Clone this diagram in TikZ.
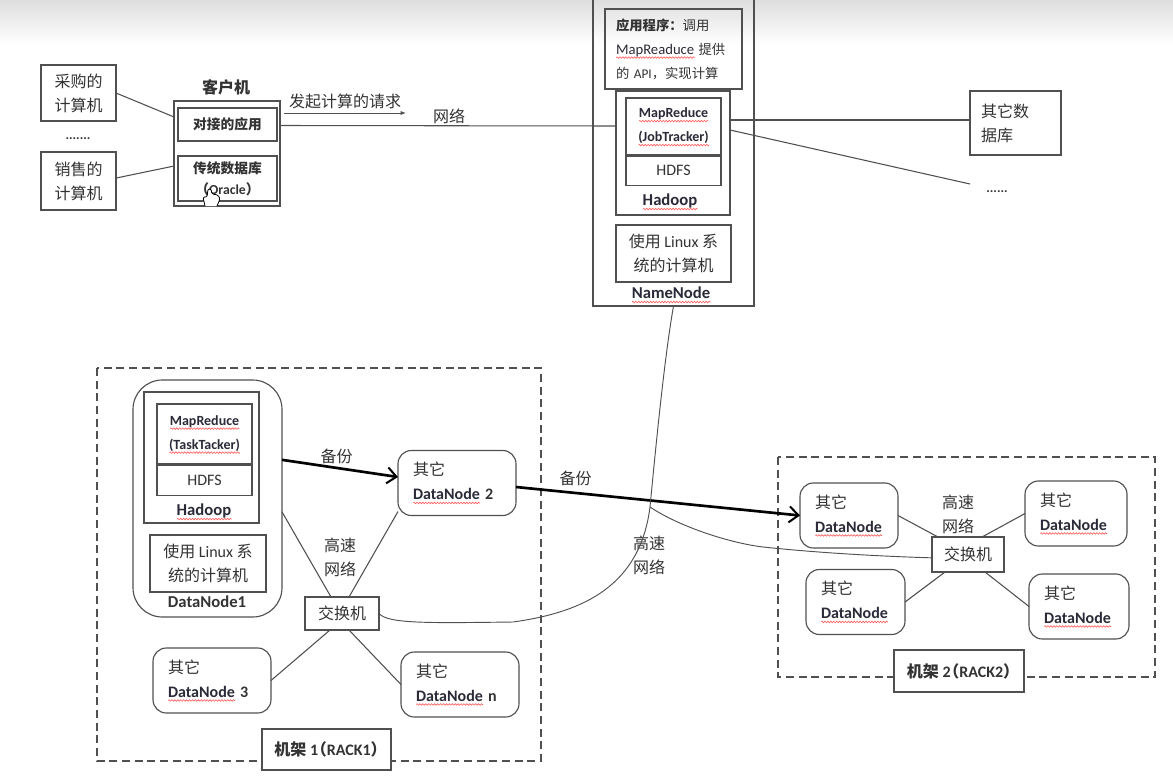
\documentclass[tikz,border=0pt]{standalone}
\usepackage{fontspec}
\setmainfont{Noto Sans CJK SC}
\newfontfamily\lat{Carlito}
\usetikzlibrary{positioning,arrows.meta,decorations.pathmorphing}
\definecolor{lc}{HTML}{505050}
\definecolor{tc}{HTML}{2A2A38}
\newlength{\sqw}
\newcommand{\en}[1]{{\lat #1}}
\newcommand{\sq}[1]{\leavevmode\settowidth{\sqw}{\lat #1}\rlap{\tikz[baseline=0pt]\draw[red!65, sharp corners, line width=.45pt, decorate,
    decoration={zigzag, segment length=2.2pt, amplitude=.6pt}] (0pt,-2.6pt) -- (\sqw,-2.6pt);}\textcolor{tc}{\lat #1}}

\begin{document}
\begin{tikzpicture}[x=0.75pt,y=-0.75pt,
    wh/.style 2 args={minimum width=#1*0.75pt, minimum height=#2*0.75pt},
    every node/.style={inner sep=0, outer sep=0, text=black!80, align=center,
      font=\fontsize{12}{18}\selectfont},
    box/.style={draw=lc, line width=0.85pt},
    fbox/.style={box, fill=white},
    dbox/.style={box, rounded corners=10pt, align=left, wh={#1}{65}, text width=(#1-30)*0.75pt},
    small/.style={font=\fontsize{10.3}{18}\selectfont\bfseries},
    link/.style={draw=lc, line width=0.8pt},
    bak/.style={draw=black, line width=2pt, -{Straight Barb[length=7pt,width=12pt,line width=1.5pt]}},
    rack/.style={draw=lc, line width=0.9pt, dash pattern=on 6pt off 3.5pt}
  ]
  \clip (0,0) rectangle (1173,778);
  \fill[white] (0,0) rectangle (1173,778);
  \shade[top color=black!13, bottom color=white] (0,0) rectangle (1173,44);

  \node[box, wh={75}{56}] (buy) at (78.5,93) {采购的\\计算机};
  \node[box, wh={75}{58}] (sale) at (78.5,181) {销售的\\计算机};
  \node[font=\bfseries] (ldots) at (78,139) {\en{.......}};
  \node[box, wh={106}{105}] (client) at (227,153.5) {};
  \node[font=\fontsize{12}{14}\selectfont\bfseries] (cname) at (226,87) {客户机};
  \node[box, wh={99}{33}, small] (app) at (227.5,124.5) {对接的应用};
  \node[box, wh={99}{45}, small, font=\fontsize{10.3}{16}\selectfont\bfseries] (db) at (227.5,178.5) {传统数据库\\（\en{Oracle}）};
  \draw[fill=white, draw=black, line width=0.6pt, rounded corners=1pt] (205,206) -- (203,197) -- (207,197) -- (208,189) -- (211,189) -- (212,194) -- (218,195) -- (220,199) -- (217,206);

  \draw[link] (buy.east) -- ([yshift=27.4pt]client.west);
  \draw[link] ([yshift=2.2pt]sale.east) -- ([yshift=-9.4pt]client.west);

  \node[box, wh={161}{316}] (name) at (673.5,148) {};
  \node[box, wh={137}{80}, align=left, text width=115*0.75pt, font=\fontsize{10}{18}\selectfont] (prog) at (673.5,49)
    {{\bfseries 应用程序：}调用\\{\fontsize{11}{18}\selectfont\sq{MapReaduce}} 提供\\的 \en{API}，实现计算};
  \node[box, wh={114}{124}] (nhad) at (673,153) {};
  \node[box, wh={95}{58}, small, font=\fontsize{10.5}{18}\selectfont\bfseries] (nmr) at (673.5,127) {\sq{MapReduce}\\\sq{(JobTracker)}};
  \node[box, wh={95}{31}, below=-\pgflinewidth of nmr] (nhd) {\en{HDFS}};
  \node[font=\fontsize{12.5}{14}\selectfont\bfseries] (nhl) at (670,202) {\sq{Hadoop}};
  \node[box, wh={115}{57}] (nlx) at (673.5,253.5) {使用 \en{Linux} 系\\统的计算机};
  \node[font=\fontsize{12.5}{14}\selectfont\bfseries] (nnl) at (671,295) {\sq{NameNode}};

  \draw[link] ([yshift=21pt]client.east) -- ([yshift=20.25pt]nhad.west);
  \coordinate (reqa) at (284,113);
  \coordinate (reqb) at (406,113);
  \draw[draw=lc, line width=0.7pt, -{Latex[length=4pt,width=3pt]}] (reqa) -- (reqb) node[midway, above=3pt] (reql) {发起计算的请求};
  \node (net) at (449,116) {网络};

  \node[box, wh={91}{64}, align=left, text width=69*0.75pt] (other) at (1015.5,123) {其它数\\据库};
  \node[font=\bfseries] (rdots) at (997,192) {\en{......}};
  \coordinate (rend) at (970,184);
  \draw[link] ([yshift=24.75pt]nhad.east) -- ([yshift=2.25pt]other.west);
  \draw[link] ([yshift=17.25pt]nhad.east) -- (rend);

  \draw[rack] (97,368) rectangle (541,761);
  \node[box, rounded corners=22pt, wh={149}{237}] (dn1) at (207.5,498.5) {};
  \node[box, wh={115}{131}] (dhad) at (201.5,457.5) {};
  \node[box, wh={95}{61}, small, font=\fontsize{10.5}{18}\selectfont\bfseries] (dmr) at (204.5,434.5) {\sq{MapReduce}\\\sq{(TaskTacker)}};
  \node[box, wh={95}{32}, below=-\pgflinewidth of dmr] (dhd) {\en{HDFS}};
  \node[font=\fontsize{12.5}{14}\selectfont\bfseries] (dhl) at (204,512) {\sq{Hadoop}};
  \node[box, wh={116}{57}] (dlx) at (208,563.5) {使用 \en{Linux} 系\\统的计算机};
  \node[font=\fontsize{12.5}{14}\selectfont\bfseries] (dnl) at (207,602) {\en{DataNode1}};
  \node[dbox=118] (dn2) at (457,483) {其它\\\sq{\bfseries DataNode} \en{\bfseries 2}};
  \node[dbox=118] (dn3) at (212,680.5) {其它\\\sq{\bfseries DataNode} \en{\bfseries 3}};
  \node[dbox=118] (dnn) at (460,684.5) {其它\\\sq{\bfseries DataNode} \en{\bfseries n}};
  \node[box, wh={74}{33}] (swa) at (342,613.5) {交换机};
  \node (fasta) at (340,557) {高速\\网络};
  \node[fbox, wh={129}{41}, font=\fontsize{12}{14}\selectfont\bfseries] (racka) at (326.5,749.5) {机架 \en{1}\hspace{-5.5pt}（\en{RACK1}）\hspace{-6pt}};

  \draw[link] ([yshift=-10pt]dn1.east) -- ([xshift=-8.25pt]swa.north);
  \draw[link] ([yshift=3pt]dn2.south west) -- ([xshift=5.25pt]swa.north);
  \draw[link] (dn3.east) -- ([xshift=-9pt]swa.south);
  \draw[link] (dnn.west) -- ([xshift=5.25pt]swa.south);
  \draw[bak] ([yshift=29pt]dn1.east) -- ([yshift=4.5pt]dn2.west) node[pos=.47, above=3pt] (baka) {备份};

  \draw[rack] (778,457) rectangle (1155,677);
  \node[dbox=98] (dna) at (849,515.5) {其它\\\sq{\bfseries DataNode}};
  \node[dbox=102] (dnb) at (1076,513.5) {其它\\\sq{\bfseries DataNode}};
  \node[dbox=99] (dnc) at (855.5,602) {其它\\\sq{\bfseries DataNode}};
  \node[dbox=100] (dnd) at (1079,606.5) {其它\\\sq{\bfseries DataNode}};
  \node[box, wh={72}{35}] (swb) at (968,554.5) {交换机};
  \node (fastb) at (958,514) {高速\\网络};
  \node[fbox, wh={130}{42}, font=\fontsize{12}{14}\selectfont\bfseries] (rackb) at (959,671) {机架 \en{2}\hspace{-5.5pt}（\en{RACK2}）\hspace{-6pt}};

  \draw[link] (dna.east) -- ([xshift=-22.5pt]swb.north);
  \draw[link] (dnb.west) -- ([xshift=10.5pt]swb.north);
  \draw[link] (dnc.east) -- ([xshift=-17.25pt]swb.south);
  \draw[link] (dnd.west) -- ([xshift=12.75pt]swb.south);
  \draw[bak] ([yshift=-3pt]dn2.east) -- (dna.west) node[pos=.21, above=5.5pt] (bakb) {备份};

  \coordinate (junc) at (650,507);
  \node (fastc) at (649,555) {高速\\网络};
  \draw[link, line width=0.7pt] (swa.east) .. controls (388,624) and (430,623) .. (513,622) .. controls (585,612) and (640,585) .. (junc) .. controls (655,455) and (664,360) .. (name.south);
  \draw[link, line width=0.7pt] (junc) .. controls (680,527) and (730,543) .. (763,547) .. controls (810,552) and (870,556) .. ([yshift=-2.5pt]swb.west);
\end{tikzpicture}
\end{document}
